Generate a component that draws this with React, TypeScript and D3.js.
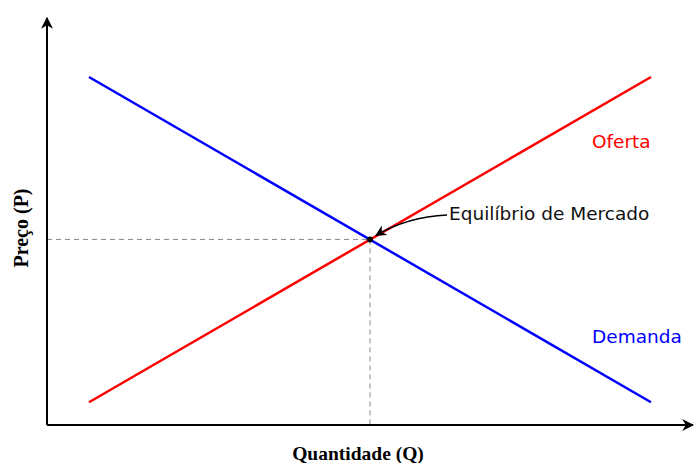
import React, { useEffect, useRef } from 'react';
import * as d3 from 'd3';

// Quantity / price values for both curves (axis units 0..100)
const quantities = [6.5, 93.5];
const supplyPrices = [5.6, 85.5];
const demandPrices = [85.5, 5.6];
const equilibrium = { q: 50, p: 45.6 };
const labels = { supply: 'Oferta', demand: 'Demanda', eq: 'Equilíbrio de Mercado' };

export default function App() {
  const svgRef = useRef<SVGSVGElement>(null);

  useEffect(() => {
    if (!svgRef.current) return;
    const svg = d3.select(svgRef.current);
    const width = 695;
    const height = 463;

    svg.selectAll('*').remove();
    svg.attr('width', width).attr('height', height).attr('viewBox', [0, 0, width, height]);

    const x = d3.scaleLinear().domain([0, 100]).range([47, 693]);
    const y = d3.scaleLinear().domain([0, 100]).range([425, 18]);

    const defs = svg.append('defs');
    defs.append('marker')
      .attr('id', 'axisArrow')
      .attr('viewBox', '0 0 10 10')
      .attr('refX', 9)
      .attr('refY', 5)
      .attr('markerWidth', 6)
      .attr('markerHeight', 6)
      .attr('markerUnits', 'strokeWidth')
      .attr('orient', 'auto')
      .append('path')
      .attr('d', 'M0,0 L10,5 L0,10 L3,5 z')
      .attr('fill', '#000');
    defs.append('marker')
      .attr('id', 'annArrow')
      .attr('viewBox', '0 0 10 10')
      .attr('refX', 9)
      .attr('refY', 5)
      .attr('markerWidth', 7)
      .attr('markerHeight', 7)
      .attr('markerUnits', 'strokeWidth')
      .attr('orient', 'auto')
      .append('path')
      .attr('d', 'M0,0 L10,5 L0,10 L3,5 z')
      .attr('fill', '#000');

    // dashed guide lines
    svg.append('line')
      .attr('x1', x(0)).attr('y1', y(equilibrium.p))
      .attr('x2', x(equilibrium.q)).attr('y2', y(equilibrium.p))
      .attr('stroke', '#888').attr('stroke-width', 1).attr('stroke-dasharray', '5,4');
    svg.append('line')
      .attr('x1', x(equilibrium.q)).attr('y1', y(equilibrium.p))
      .attr('x2', x(equilibrium.q)).attr('y2', y(0))
      .attr('stroke', '#888').attr('stroke-width', 1).attr('stroke-dasharray', '5,4');

    // axes
    svg.append('line')
      .attr('x1', x(0)).attr('y1', y(0)).attr('x2', x(0)).attr('y2', y(100))
      .attr('stroke', '#000').attr('stroke-width', 2).attr('marker-end', 'url(#axisArrow)');
    svg.append('line')
      .attr('x1', x(0)).attr('y1', y(0)).attr('x2', x(100)).attr('y2', y(0))
      .attr('stroke', '#000').attr('stroke-width', 2).attr('marker-end', 'url(#axisArrow)');

    const line = d3.line<[number, number]>()
      .x(d => x(d[0]))
      .y(d => y(d[1]));

    svg.append('path')
      .datum(quantities.map((q, i) => [q, demandPrices[i]] as [number, number]))
      .attr('fill', 'none').attr('stroke', '#0000ff').attr('stroke-width', 2.5)
      .attr('d', line);
    svg.append('path')
      .datum(quantities.map((q, i) => [q, supplyPrices[i]] as [number, number]))
      .attr('fill', 'none').attr('stroke', '#ff0000').attr('stroke-width', 2.5)
      .attr('d', line);

    // equilibrium point
    const ex = x(equilibrium.q);
    const ey = y(equilibrium.p);
    svg.append('circle').attr('cx', ex).attr('cy', ey).attr('r', 3).attr('fill', '#000');

    // annotation arrow
    const sx = 447;
    const sy = 215;
    svg.append('path')
      .attr('d', `M${sx},${sy} Q${sx - 40},${sy + 2} ${ex + 6},${ey - 4}`)
      .attr('fill', 'none').attr('stroke', '#000').attr('stroke-width', 1.6)
      .attr('marker-end', 'url(#annArrow)');

    const sans = '"DejaVu Sans", sans-serif';
    svg.append('text')
      .attr('x', 449).attr('y', 220)
      .attr('font-family', sans).attr('font-size', 18.5).attr('fill', '#111')
      .text(labels.eq);
    svg.append('text')
      .attr('x', 592).attr('y', 148)
      .attr('font-family', sans).attr('font-size', 18.5).attr('fill', '#ff0000')
      .text(labels.supply);
    svg.append('text')
      .attr('x', 592).attr('y', 343)
      .attr('font-family', sans).attr('font-size', 18.5).attr('fill', '#0000ff')
      .text(labels.demand);

    const serif = '"Liberation Serif", "Times New Roman", serif';
    svg.append('text')
      .attr('x', 358).attr('y', 460)
      .attr('text-anchor', 'middle')
      .attr('font-family', serif).attr('font-weight', 'bold').attr('font-size', 19.5)
      .text('Quantidade (Q)');
    svg.append('text')
      .attr('transform', 'translate(28,228) rotate(-90)')
      .attr('text-anchor', 'middle')
      .attr('font-family', serif).attr('font-weight', 'bold').attr('font-size', 20)
      .text('Preço (P)');
  }, []);

  return (
    <div style={{ position: 'absolute', left: 0, top: 0 }}>
      <svg ref={svgRef} style={{ display: 'block' }} />
    </div>
  );
}
